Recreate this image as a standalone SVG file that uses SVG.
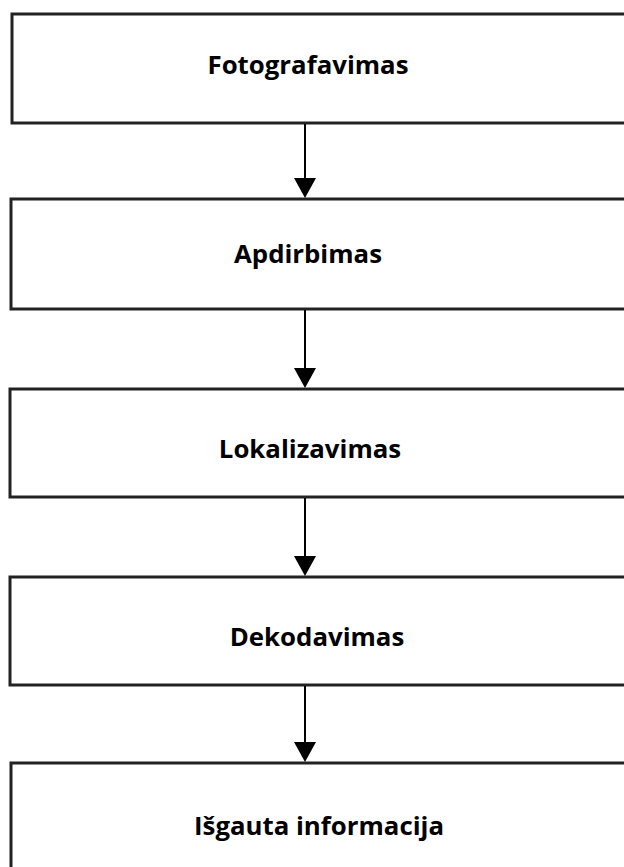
<svg xmlns="http://www.w3.org/2000/svg" width="624" height="867" viewBox="0 0 624 867">
<style>
.box{fill:#fff;stroke:#222;stroke-width:3}
.lbl{font-family:"Open Sans",Lato,sans-serif;font-weight:700;font-size:25.8px;fill:#000;text-anchor:middle}
.conn{stroke:#000;stroke-width:2;fill:none}
.head{fill:#000}
</style>
<rect width="624" height="867" fill="#fff"/>
<g id="n1"><rect class="box" x="12" y="14" width="630" height="109"/><text class="lbl" x="308" y="74">Fotografavimas</text></g>
<g id="n2"><rect class="box" x="11" y="199" width="630" height="110"/><text class="lbl" x="308" y="263">Apdirbimas</text></g>
<g id="n3"><rect class="box" x="10" y="389" width="630" height="108"/><text class="lbl" x="310" y="458">Lokalizavimas</text></g>
<g id="n4"><rect class="box" x="10" y="577" width="630" height="108"/><text class="lbl" x="317" y="646">Dekodavimas</text></g>
<g id="n5"><rect class="box" x="11" y="763" width="630" height="120"/><text class="lbl" x="319" y="835">Išgauta informacija</text></g>
<g id="connectors">
<line class="conn" x1="305" y1="124" x2="305" y2="180"/><polygon class="head" points="294,178 316,178 305,198"/>
<line class="conn" x1="305" y1="310" x2="305" y2="370"/><polygon class="head" points="294,368 316,368 305,388"/>
<line class="conn" x1="305" y1="498" x2="305" y2="558"/><polygon class="head" points="294,556 316,556 305,576"/>
<line class="conn" x1="305" y1="686" x2="305" y2="744"/><polygon class="head" points="294,742 316,742 305,762"/>
</g>
</svg>
